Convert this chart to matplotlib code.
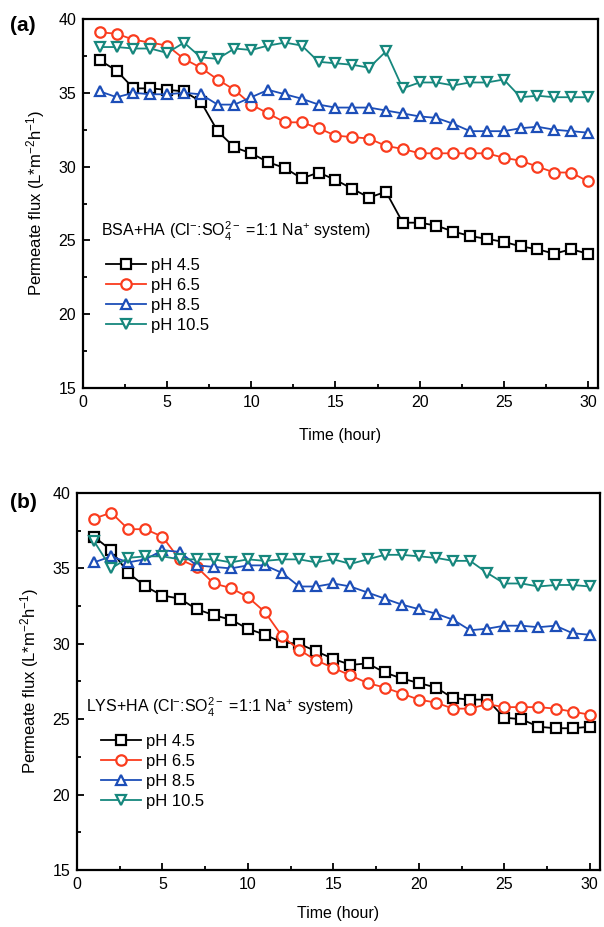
import matplotlib
matplotlib.use("Agg")
import matplotlib.pyplot as plt
from matplotlib.ticker import MultipleLocator

plt.rcParams['font.family'] = ['Liberation Sans', 'DejaVu Sans']
plt.rcParams['mathtext.fontset'] = 'custom'
plt.rcParams['mathtext.rm'] = 'Liberation Sans'
plt.rcParams['mathtext.it'] = 'Liberation Sans'

time = list(range(1, 31))

a_ph45 = [37.2, 36.5, 35.3, 35.3, 35.2, 35.1, 34.4, 32.4, 31.3, 30.9, 30.3, 29.9, 29.2, 29.6, 29.1,
          28.5, 27.9, 28.3, 26.2, 26.2, 26.0, 25.6, 25.3, 25.1, 24.9, 24.6, 24.4, 24.1, 24.4, 24.1]
a_ph65 = [39.1, 39.0, 38.6, 38.4, 38.2, 37.3, 36.7, 35.9, 35.2, 34.2, 33.6, 33.0, 33.0, 32.6, 32.1,
          32.0, 31.9, 31.4, 31.2, 30.9, 30.9, 30.9, 30.9, 30.9, 30.6, 30.4, 30.0, 29.6, 29.6, 29.0]
a_ph85 = [35.1, 34.7, 35.0, 34.9, 34.9, 35.0, 34.9, 34.2, 34.2, 34.7, 35.2, 34.9, 34.6, 34.2, 34.0,
          34.0, 34.0, 33.8, 33.6, 33.4, 33.3, 32.9, 32.4, 32.4, 32.4, 32.6, 32.7, 32.5, 32.4, 32.3]
a_ph105 = [38.1, 38.1, 38.0, 38.0, 37.7, 38.4, 37.4, 37.3, 38.0, 37.9, 38.2, 38.4, 38.2, 37.1, 37.0,
           36.9, 36.7, 37.8, 35.3, 35.7, 35.7, 35.5, 35.7, 35.7, 35.9, 34.7, 34.8, 34.7, 34.7, 34.7]

b_ph45 = [37.1, 36.2, 34.7, 33.8, 33.2, 33.0, 32.3, 31.9, 31.6, 31.0, 30.6, 30.1, 30.0, 29.5, 29.0,
          28.6, 28.7, 28.1, 27.7, 27.4, 27.1, 26.4, 26.3, 26.3, 25.1, 25.0, 24.5, 24.4, 24.4, 24.5]
b_ph65 = [38.3, 38.7, 37.6, 37.6, 37.1, 35.6, 35.1, 34.0, 33.7, 33.1, 32.1, 30.5, 29.6, 28.9, 28.4,
          27.9, 27.4, 27.1, 26.7, 26.3, 26.1, 25.7, 25.7, 26.0, 25.8, 25.8, 25.8, 25.7, 25.5, 25.3]
b_ph85 = [35.4, 35.8, 35.4, 35.6, 36.2, 36.1, 35.2, 35.1, 35.0, 35.2, 35.2, 34.7, 33.8, 33.8, 34.0,
          33.8, 33.4, 33.0, 32.6, 32.3, 32.0, 31.6, 30.9, 31.0, 31.2, 31.2, 31.1, 31.2, 30.7, 30.6]
b_ph105 = [36.8, 35.0, 35.7, 35.8, 35.8, 35.6, 35.6, 35.6, 35.4, 35.6, 35.5, 35.6, 35.6, 35.4, 35.6,
           35.3, 35.6, 35.9, 35.9, 35.8, 35.7, 35.5, 35.5, 34.7, 34.0, 34.0, 33.8, 33.9, 33.9, 33.8]

labels = ['pH 4.5', 'pH 6.5', 'pH 8.5', 'pH 10.5']
colors = ['#000000', '#fa3c1e', '#1c4eb8', '#16877d']
markers = ['s', 'o', '^', 'v']

fig = plt.figure(figsize=(6.04, 9.27), dpi=100)
W, H = 604, 927

def make_ax(l, r, t, b):
    return fig.add_axes([l / W, 1 - b / H, (r - l) / W, (b - t) / H])

ax_a = make_ax(83, 598, 19, 388)
ax_b = make_ax(77, 600, 493, 870)

panels = [
    (ax_a, [a_ph45, a_ph65, a_ph85, a_ph105], '(a)', (-0.142, 0.982),
     r'BSA+HA (Cl$^{-}$:SO$_{4}^{2-}$ =1:1 Na$^{+}$ system)', (1.05, 25.6), (0.045, 0.352), 13),
    (ax_b, [b_ph45, b_ph65, b_ph85, b_ph105], '(b)', (-0.128, 0.976),
     r'LYS+HA (Cl$^{-}$:SO$_{4}^{2-}$ =1:1 Na$^{+}$ system)', (0.55, 25.8), (0.045, 0.36), 10),
]

for ax, series, tag, tag_xy, note, note_xy, leg_xy, xpad in panels:
    for ys, lab, c, m in zip(series, labels, colors, markers):
        ax.plot(time, ys, color=c, marker=m, markersize=7.5, markerfacecolor='white',
                markeredgecolor=c, markeredgewidth=1.6, linewidth=1.3, label=lab)
    ax.set_xlim(0, 30.6)
    ax.set_ylim(15, 40)
    ax.xaxis.set_major_locator(MultipleLocator(5))
    ax.xaxis.set_minor_locator(MultipleLocator(2.5))
    ax.yaxis.set_major_locator(MultipleLocator(5))
    ax.yaxis.set_minor_locator(MultipleLocator(2.5))
    ax.tick_params(which='both', direction='in', top=False, right=False, labelsize=11.5, width=1.3)
    ax.tick_params(which='major', length=5, pad=5)
    ax.tick_params(which='minor', length=3)
    for s in ax.spines.values():
        s.set_linewidth(1.6)
    ax.set_xlabel('Time (hour)', fontsize=11.5, labelpad=xpad)
    ax.set_ylabel(r'Permeate flux (L*m$^{-2}$h$^{-1}$)', fontsize=12, labelpad=8)
    ax.text(note_xy[0], note_xy[1], note, fontsize=11.5, va='center', ha='left')
    ax.legend(loc='upper left', bbox_to_anchor=leg_xy, frameon=False, fontsize=12,
              handlelength=2.4, handletextpad=0.3, labelspacing=0.3,
              borderaxespad=0, borderpad=0)
    ax.text(tag_xy[0], tag_xy[1], tag, transform=ax.transAxes, fontsize=15, fontweight='bold',
            ha='left', va='center')

fig.savefig('out.png', dpi=100)
